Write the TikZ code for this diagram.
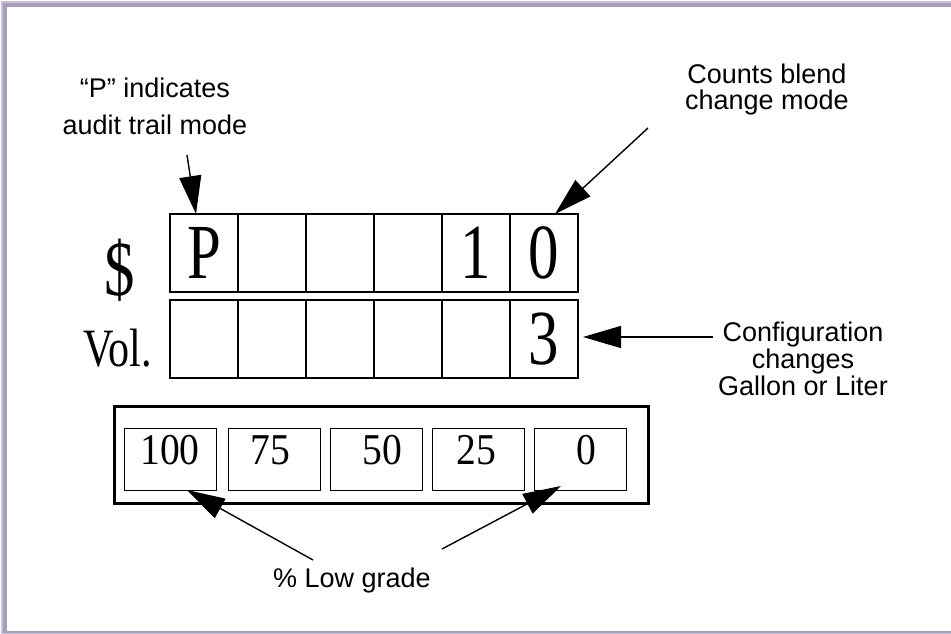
\documentclass[tikz,border=0pt]{standalone}
\usepackage{fontspec}
\setmainfont{Liberation Serif}
\setsansfont{Liberation Sans}
\usepackage{graphicx}
\usetikzlibrary{arrows.meta,positioning,calc}
\definecolor{fEdge}{RGB}{200,194,214}
\definecolor{fFrame}{RGB}{168,158,188}
\newcommand{\bigglyph}{\fontsize{78}{78}\selectfont}
\newcommand{\gradeglyph}{\fontsize{44}{44}\selectfont}
\newcommand{\slim}[2][0.78]{\scalebox{#1}[1]{#2}}
\newcommand{\labelfont}{\sffamily\fontsize{27}{27}\selectfont}

\begin{document}
\begin{tikzpicture}[x=1pt,y=-1pt,
  >={Triangle[length=38pt,width=22pt]},
  cell/.style={draw,line width=1.8pt,minimum width=68pt,minimum height=78pt,
    inner sep=0pt,outer sep=0pt,font=\bigglyph},
  gbox/.style={draw,line width=0.9pt,minimum width=92pt,minimum height=62pt,
    inner sep=0pt,outer sep=0pt,font=\gradeglyph,text height=35pt,text depth=25pt},
  panel/.style={draw,line width=3pt,minimum width=534pt,minimum height=97pt,inner sep=0pt},
  lbl/.style={font=\labelfont,align=center,inner sep=0pt},
  ptr/.style={->,line width=1.4pt}
  ]
  % frame
  \useasboundingbox (0,0) rectangle (951,634);
  \fill[fEdge] (1,1) rectangle (951,634);
  \fill[fFrame] (3,3) rectangle (951,633);
  \fill[white] (7,7) rectangle (951,631);

  % price row
  \node[cell] (d1) at (204,253) {\slim{P}};
  \node[cell] (d2) at (272,253) {};
  \node[cell] (d3) at (340,253) {};
  \node[cell] (d4) at (408,253) {};
  \node[cell] (d5) at (476,253) {\slim{1}};
  \node[cell] (d6) at (544,253) {\slim{0}};

  % volume row
  \node[cell] (v1) at (204,339) {};
  \node[cell] (v2) at (272,339) {};
  \node[cell] (v3) at (340,339) {};
  \node[cell] (v4) at (408,339) {};
  \node[cell] (v5) at (476,339) {};
  \node[cell] (v6) at (544,339) {\slim{3}};

  \node[font=\bigglyph,inner sep=0pt,anchor=base] (dollar) at (120,295) {\slim{\$}};
  \node[font=\fontsize{54}{54}\selectfont,inner sep=0pt,anchor=base] (vol) at (118,366) {\slim{Vol.}};

  % grade panel
  \node[panel] (panel) at (381,454.5) {};
  \node[gbox] (g1) at (170,459) {\slim[0.9]{100}};
  \node[gbox] (g2) at (274,459) {\hspace*{-8pt}\slim[0.9]{75}};
  \node[gbox] (g3) at (376,459) {\hspace*{12pt}\slim[0.9]{50}};
  \node[gbox] (g4) at (478,459) {\hspace*{-4pt}\slim[0.9]{25}};
  \node[gbox] (g5) at (580,459) {\hspace*{12pt}\slim[0.9]{0}};

  % labels
  \node[lbl,font=\sffamily\fontsize{27}{37}\selectfont] (plbl) at (155,106.6) {“P” indicates\\audit trail mode};
  \node[lbl,font=\sffamily\fontsize{27}{26}\selectfont] (blbl) at (767,90) {Counts blend\\change mode};
  \node[lbl] (clbl) at (803,359) {Configuration\\changes\\Gallon or Liter};
  \node[lbl,anchor=base] (glbl) at (352,587) {\% Low grade};

  % pointers
  \coordinate (pa) at (187,155);
  \coordinate (ba) at (648,128);
  \coordinate (ca) at (713,337);
  \coordinate (ga) at (313,560);
  \coordinate (gb) at (442,549);
  \draw[ptr] (pa) -- ([xshift=-8pt]d1.north);
  \draw[ptr] (ba) -- ([xshift=11pt]d6.north);
  \draw[ptr] (ca) -- ([xshift=5pt,yshift=2pt]v6.east);
  \draw[ptr] (ga) -- ([xshift=17pt]g1.south);
  \draw[ptr] (gb) -- ([xshift=-19pt,yshift=4pt]g5.south);
\end{tikzpicture}
\end{document}
